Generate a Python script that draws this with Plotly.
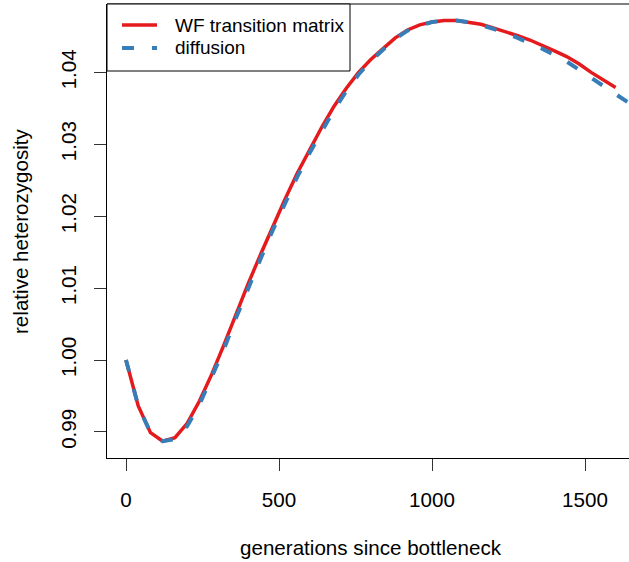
import plotly.graph_objects as go

# ---- data ----
wf_gen = [0, 40, 80, 120, 160, 200, 240, 280, 320, 360, 400, 440, 480, 520, 560,
          600, 640, 680, 720, 760, 800, 840, 880, 920, 960, 1000, 1040, 1080,
          1120, 1160, 1200, 1240, 1280, 1320, 1360, 1400, 1440, 1480, 1520,
          1560, 1600]
wf_het = [1.0000, 0.9936, 0.9899, 0.9887, 0.9892, 0.9912, 0.9943, 0.9980,
          1.0021, 1.0065, 1.0107, 1.0147, 1.0186, 1.0224, 1.0260, 1.0293,
          1.0324, 1.0353, 1.0378, 1.0400, 1.0418, 1.0433, 1.0448, 1.0459,
          1.0466, 1.0470, 1.0472, 1.0472, 1.0470, 1.0467, 1.0462, 1.0457,
          1.0451, 1.0445, 1.0438, 1.0430, 1.0422, 1.0412, 1.0400, 1.0390,
          1.0379]

diff_gen = [0, 40, 80, 120, 160, 200, 240, 280, 320, 360, 400, 440, 480, 520,
            560, 600, 640, 680, 720, 760, 800, 840, 880, 920, 960, 1000, 1040,
            1080, 1120, 1160, 1200, 1240, 1280, 1320, 1360, 1400, 1440, 1480,
            1520, 1560, 1600, 1640, 1680]
diff_het = [1.0000, 0.9936, 0.9899, 0.9887, 0.9890, 0.9908, 0.9938, 0.9975,
            1.0015, 1.0059, 1.0101, 1.0141, 1.0181, 1.0219, 1.0255, 1.0288,
            1.0319, 1.0348, 1.0374, 1.0397, 1.0416, 1.0432, 1.0447, 1.0458,
            1.0465, 1.0470, 1.0472, 1.0472, 1.0470, 1.0466, 1.0461, 1.0455,
            1.0448, 1.0441, 1.0433, 1.0424, 1.0415, 1.0404, 1.0393, 1.0381,
            1.0370, 1.0359, 1.0347]

series_names = ["WF transition matrix", "diffusion"]
x_ticks = [0, 500, 1000, 1500]
y_ticks = [0.99, 1.00, 1.01, 1.02, 1.03, 1.04]
y_tick_text = ["0.99", "1.00", "1.01", "1.02", "1.03", "1.04"]

RED = "#E41A1C"
BLUE = "#377EB8"
FONT = "Liberation Sans, Arial, Helvetica, sans-serif"
DASH = "12px,18px"

W, H = 629, 562
ML, MT, MB, MR = 107, 4, 104, 0
PW, PH = W - ML - MR, H - MT - MB


def px(xpix):
    return (xpix - ML) / PW


def py(ypix):
    return 1 - (ypix - MT) / PH


fig = go.Figure()
fig.add_trace(go.Scatter(x=wf_gen, y=wf_het, mode="lines", name=series_names[0],
                         line=dict(color=RED, width=3.5), showlegend=False))
fig.add_trace(go.Scatter(x=diff_gen, y=diff_het, mode="lines", name=series_names[1],
                         line=dict(color=BLUE, width=4, dash=DASH), showlegend=False))

# legend drawn in R style (box at top-left corner of the plot)
legend_rows = [(25, RED, None), (48, BLUE, DASH)]
shapes = [
    dict(type="line", xref="paper", yref="paper", x0=0, x1=1.02,
         y0=1, y1=1, line=dict(color="black", width=1)),
    dict(type="rect", xref="paper", yref="paper", x0=0, x1=px(350),
         y0=py(71), y1=1, line=dict(color="black", width=1),
         fillcolor="white", layer="above"),
]
annotations = []
for (ypix, col, dash), name in zip(legend_rows, series_names):
    ln = dict(color=col, width=4 if dash else 3.5)
    if dash:
        ln["dash"] = dash
    shapes.append(dict(type="line", xref="paper", yref="paper",
                       x0=px(122), x1=px(157), y0=py(ypix), y1=py(ypix),
                       line=ln, layer="above"))
    annotations.append(dict(text=name, xref="paper", yref="paper",
                            x=px(173), y=py(ypix), xanchor="left",
                            yanchor="middle", showarrow=False,
                            font=dict(size=19)))

annotations += [
    dict(text="generations since bottleneck", xref="paper", yref="paper",
         x=px(371), y=py(547), xanchor="center", yanchor="middle",
         showarrow=False, font=dict(size=20.6)),
    dict(text="relative heterozygosity", xref="paper", yref="paper",
         x=px(20), y=0.5, textangle=-90, xanchor="center", yanchor="middle",
         showarrow=False, font=dict(size=20.6)),
]

fig.update_layout(
    width=W, height=H,
    margin=dict(l=ML, r=MR, t=MT, b=MB, pad=0),
    paper_bgcolor="white", plot_bgcolor="white",
    font=dict(family=FONT, size=19, color="black"),
    showlegend=False,
    xaxis=dict(range=[-62.1, 1643.8], tickvals=x_ticks, ticks="outside",
               ticklen=12, tickwidth=1, tickcolor="#333", showgrid=False,
               zeroline=False, showline=True, linecolor="black", linewidth=1,
               tickfont=dict(size=20.6), ticklabelstandoff=11),
    yaxis=dict(range=[0.98637, 1.04951], tickvals=y_ticks, ticktext=y_tick_text,
               ticks="outside", ticklen=12, tickwidth=1, tickcolor="#333",
               showgrid=False, zeroline=False, showline=True, linecolor="black",
               linewidth=1, tickangle=-90, tickfont=dict(size=20.6),
               ticklabelstandoff=10),
    shapes=shapes,
    annotations=annotations,
)

fig.write_html("out.html")
